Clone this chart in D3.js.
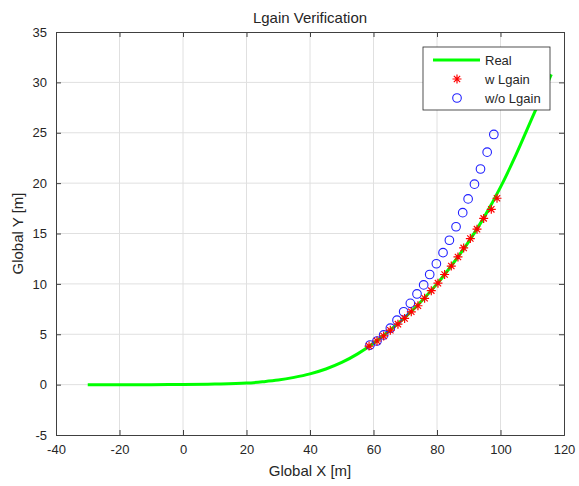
<!DOCTYPE html>
<html lang="en">
<head>
	<meta charset="UTF-8"/>
	<title>Lgain Verification</title>
	<script src="https://d3js.org/d3.v7.min.js"></script>
	<style>
		body { margin: 0; background: #fff; }
		text { font-family: "Liberation Sans", Arial, sans-serif; fill: #262626; }
	</style>
</head>
<body>
<script>
	// Real path
	var realX = [-30, -20, -10, 0, 10, 20, 25, 30, 35, 40, 45, 50, 55, 60, 65, 70, 75, 80, 85, 90, 95, 100, 105, 110, 116];
	var realY = [0, 0, 0, 0.01, 0.05, 0.15, 0.28, 0.45, 0.72, 1.07, 1.55, 2.2, 3.05, 4.1, 5.35, 6.7, 8.25, 10.0, 12.0, 14.2, 16.7, 19.6, 22.9, 26.5, 30.8];

	// w Lgain
	var lgX = [58.6, 61.1, 63.2, 65.3, 67.7, 69.8, 71.9, 74.0, 76.1, 78.2, 80.3, 82.4, 84.5, 86.6, 88.4, 90.5, 92.6, 94.7, 97.1, 98.9];
	var lgY = [3.83, 4.33, 4.83, 5.4, 6.0, 6.57, 7.23, 7.83, 8.57, 9.33, 10.07, 10.93, 11.77, 12.67, 13.57, 14.5, 15.43, 16.5, 17.4, 18.5];

	// w/o Lgain
	var noX = [58.9, 61.1, 63.2, 65.3, 67.4, 69.5, 71.6, 73.7, 75.8, 77.7, 79.8, 81.9, 83.9, 86.0, 88.1, 89.8, 91.8, 93.7, 95.8, 97.9];
	var noY = [3.93, 4.33, 4.93, 5.6, 6.4, 7.23, 8.07, 9.0, 9.9, 10.93, 12.0, 13.1, 14.33, 15.67, 17.07, 18.43, 19.9, 21.4, 23.07, 24.83];

	var xTicks = [-40, -20, 0, 20, 40, 60, 80, 100, 120];
	var yTicks = [-5, 0, 5, 10, 15, 20, 25, 30, 35];
	var legendLabels = ["Real", "w Lgain", "w/o Lgain"];

	var w = 579;
	var h = 486;
	var pLeft = 56, pRight = 564, pTop = 32, pBottom = 435;

	var xScale = d3.scaleLinear().domain([-40, 120]).range([pLeft, pRight]);
	var yScale = d3.scaleLinear().domain([-5, 35]).range([pBottom, pTop]);

	var svg = d3.select("body").append("svg").attr("width", w).attr("height", h);

	svg.append("rect")
		.attr("x", pLeft).attr("y", pTop)
		.attr("width", pRight - pLeft).attr("height", pBottom - pTop)
		.attr("fill", "#fff");

	// grid
	svg.selectAll(".gx").data(xTicks.slice(1, -1)).enter().append("line")
		.attr("x1", function(d){ return xScale(d); })
		.attr("x2", function(d){ return xScale(d); })
		.attr("y1", pTop).attr("y2", pBottom)
		.attr("stroke", "#e0e0e0").attr("stroke-width", 1);

	svg.selectAll(".gy").data(yTicks.slice(1, -1)).enter().append("line")
		.attr("y1", function(d){ return yScale(d); })
		.attr("y2", function(d){ return yScale(d); })
		.attr("x1", pLeft).attr("x2", pRight)
		.attr("stroke", "#e0e0e0").attr("stroke-width", 1);

	// axes (ticks inward, box on)
	var plain = function(d){ return String(d); };
	var xAxis = d3.axisBottom(xScale).tickValues(xTicks).tickSize(-5).tickPadding(10).tickFormat(plain);
	var yAxis = d3.axisLeft(yScale).tickValues(yTicks).tickSize(-5).tickPadding(9).tickFormat(plain);

	svg.append("g").attr("transform", "translate(0," + pBottom + ")").call(xAxis);
	svg.append("g").attr("transform", "translate(" + pLeft + ",0)").call(yAxis);
	svg.append("g").attr("transform", "translate(0," + pTop + ")")
		.call(d3.axisTop(xScale).tickValues(xTicks).tickSize(-5).tickFormat(""));
	svg.append("g").attr("transform", "translate(" + pRight + ",0)")
		.call(d3.axisRight(yScale).tickValues(yTicks).tickSize(-5).tickFormat(""));

	svg.selectAll(".domain").attr("stroke", "#404040");
	svg.selectAll(".tick line").attr("stroke", "#404040");
	svg.selectAll(".tick text").attr("font-size", 13).attr("fill", "#262626")
		.style("font-family", "'Liberation Sans', Arial, sans-serif");

	// real curve
	var line = d3.line()
		.x(function(d){ return xScale(d[0]); })
		.y(function(d){ return yScale(d[1]); })
		.curve(d3.curveMonotoneX);

	svg.append("path")
		.datum(d3.zip(realX, realY))
		.attr("d", line)
		.attr("fill", "none")
		.attr("stroke", "#00ff00")
		.attr("stroke-width", 3);

	// w/o Lgain circles
	svg.selectAll(".nolg").data(d3.zip(noX, noY)).enter().append("circle")
		.attr("cx", function(d){ return xScale(d[0]); })
		.attr("cy", function(d){ return yScale(d[1]); })
		.attr("r", 4.3)
		.attr("fill", "none")
		.attr("stroke", "#2020ff")
		.attr("stroke-width", 1.1);

	// asterisk marker
	function star(s){
		var a = s * 0.7;
		return "M" + (-s) + ",0L" + s + ",0M0," + (-s) + "L0," + s +
			"M" + (-a) + "," + (-a) + "L" + a + "," + a +
			"M" + (-a) + "," + a + "L" + a + "," + (-a);
	}

	svg.selectAll(".lg").data(d3.zip(lgX, lgY)).enter().append("path")
		.attr("transform", function(d){ return "translate(" + xScale(d[0]) + "," + yScale(d[1]) + ")"; })
		.attr("d", star(4.5))
		.attr("stroke", "#ff0000")
		.attr("stroke-width", 1.2)
		.attr("fill", "none");

	// legend
	var lg = svg.append("g");
	lg.append("rect")
		.attr("x", 423).attr("y", 47).attr("width", 127).attr("height", 63)
		.attr("fill", "#fff").attr("stroke", "#262626").attr("stroke-width", 0.8);

	var rowY = [60, 79, 98];
	lg.append("line")
		.attr("x1", 433).attr("x2", 480).attr("y1", rowY[0]).attr("y2", rowY[0])
		.attr("stroke", "#00ff00").attr("stroke-width", 3);
	lg.append("path")
		.attr("transform", "translate(457," + rowY[1] + ")")
		.attr("d", star(4.5))
		.attr("stroke", "#ff0000").attr("stroke-width", 1.2).attr("fill", "none");
	lg.append("circle")
		.attr("cx", 457).attr("cy", rowY[2]).attr("r", 4.3)
		.attr("fill", "none").attr("stroke", "#2020ff").attr("stroke-width", 1.1);

	lg.selectAll(".lt").data(legendLabels).enter().append("text")
		.attr("x", 485)
		.attr("y", function(d, i){ return rowY[i] + 4.5; })
		.attr("font-size", 13)
		.text(function(d){ return d; });

	// title and labels
	svg.append("text")
		.attr("x", (pLeft + pRight) / 2).attr("y", 23)
		.attr("text-anchor", "middle").attr("font-size", 15)
		.text("Lgain Verification");

	svg.append("text")
		.attr("x", (pLeft + pRight) / 2).attr("y", 476)
		.attr("text-anchor", "middle").attr("font-size", 15)
		.text("Global X [m]");

	svg.append("text")
		.attr("transform", "translate(23," + ((pTop + pBottom) / 2) + ") rotate(-90)")
		.attr("text-anchor", "middle").attr("font-size", 15)
		.text("Global Y [m]");
</script>
</body>
</html>
